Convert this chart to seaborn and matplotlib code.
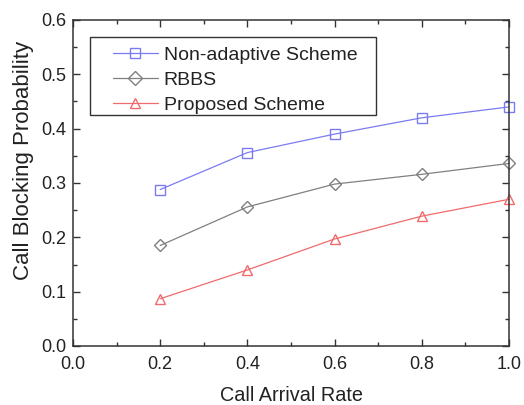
import matplotlib
matplotlib.use("Agg")
import matplotlib.pyplot as plt
import seaborn as sns
import pandas as pd
from matplotlib.ticker import MultipleLocator, FormatStrFormatter
from matplotlib.patches import Rectangle

x = [0.2, 0.4, 0.6, 0.8, 1.0]
non_adaptive = [0.288, 0.356, 0.390, 0.420, 0.440]
rbbs = [0.185, 0.256, 0.298, 0.316, 0.336]
proposed = [0.087, 0.140, 0.197, 0.239, 0.270]
series_names = ["Non-adaptive Scheme", "RBBS", "Proposed Scheme"]

df = pd.DataFrame({
    "rate": x * 3,
    "prob": non_adaptive + rbbs + proposed,
    "scheme": [series_names[0]] * 5 + [series_names[1]] * 5 + [series_names[2]] * 5,
})

sns.set_theme(style="ticks")
plt.rcParams['font.family'] = ['Liberation Sans', 'DejaVu Sans']
plt.rcParams['text.color'] = '#222222'
plt.rcParams['axes.labelcolor'] = '#222222'
plt.rcParams['xtick.labelcolor'] = '#222222'
plt.rcParams['ytick.labelcolor'] = '#222222'

fig = plt.figure(figsize=(5.24, 4.05), dpi=100)
ax = fig.add_axes([73/524, 1-346/405, (509-73)/524, (346-20)/405])

palette = {series_names[0]: "#7b7bf0", series_names[1]: "#808080", series_names[2]: "#f06b6b"}
markers = {series_names[0]: "s", series_names[1]: "D", series_names[2]: "^"}
sns.lineplot(data=df, x="rate", y="prob", hue="scheme", style="scheme",
             palette=palette, markers=markers, dashes=False, ax=ax,
             linewidth=0.9, markersize=7, markerfacecolor="none",
             markeredgewidth=1.0, clip_on=False)
for line in ax.lines:
    line.set_markerfacecolor("none")
    line.set_markeredgecolor(line.get_color())
    line.set_clip_on(False)
    if line.get_marker() == "D":
        line.set_markersize(6.5)

ax.set_xlim(0, 1.0)
ax.set_ylim(0, 0.6)
ax.xaxis.set_major_locator(MultipleLocator(0.2))
ax.xaxis.set_minor_locator(MultipleLocator(0.1))
ax.yaxis.set_major_locator(MultipleLocator(0.1))
ax.yaxis.set_minor_locator(MultipleLocator(0.05))
ax.xaxis.set_major_formatter(FormatStrFormatter("%.1f"))
ax.yaxis.set_major_formatter(FormatStrFormatter("%.1f"))
ax.tick_params(which="both", direction="in", top=True, right=True, labelsize=13, color="#333333")
ax.tick_params(which="major", length=5, width=1)
ax.tick_params(which="minor", length=3, width=1)
ax.tick_params(axis="x", pad=7)
ax.tick_params(axis="y", pad=5)
for s in ax.spines.values():
    s.set_linewidth(1.1)
    s.set_color("#333333")

ax.set_xlabel("Call Arrival Rate", fontsize=14.3, va="top")
ax.xaxis.set_label_coords(0.5, (346 - 386) / 326)
ax.set_ylabel("Call Blocking Probability", fontsize=16)
ax.yaxis.set_label_coords((34 - 73) / 436, (346 - 160) / 326)

# legend frame drawn as a rectangle in axes coordinates
x0, x1 = (90 - 73) / 436, (376 - 73) / 436
y1, y0 = (346 - 37) / 326, (346 - 115) / 326
ax.add_patch(Rectangle((x0, y0), x1 - x0, y1 - y0, transform=ax.transAxes,
                       facecolor="white", edgecolor="#333333", linewidth=1.0, zorder=4))

handles, labels = ax.get_legend_handles_labels()
for h in handles:
    h.set_markerfacecolor("none")
    h.set_markersize(7)
leg = ax.legend(handles, labels, loc="upper left", bbox_to_anchor=((113 - 73) / 436, (346 - 46) / 326),
                fontsize=14, frameon=False,
                handlelength=2.3, borderpad=0, labelspacing=0.38, handletextpad=0.3,
                borderaxespad=0)
leg.set_zorder(5)

fig.savefig("out.png", dpi=100)
